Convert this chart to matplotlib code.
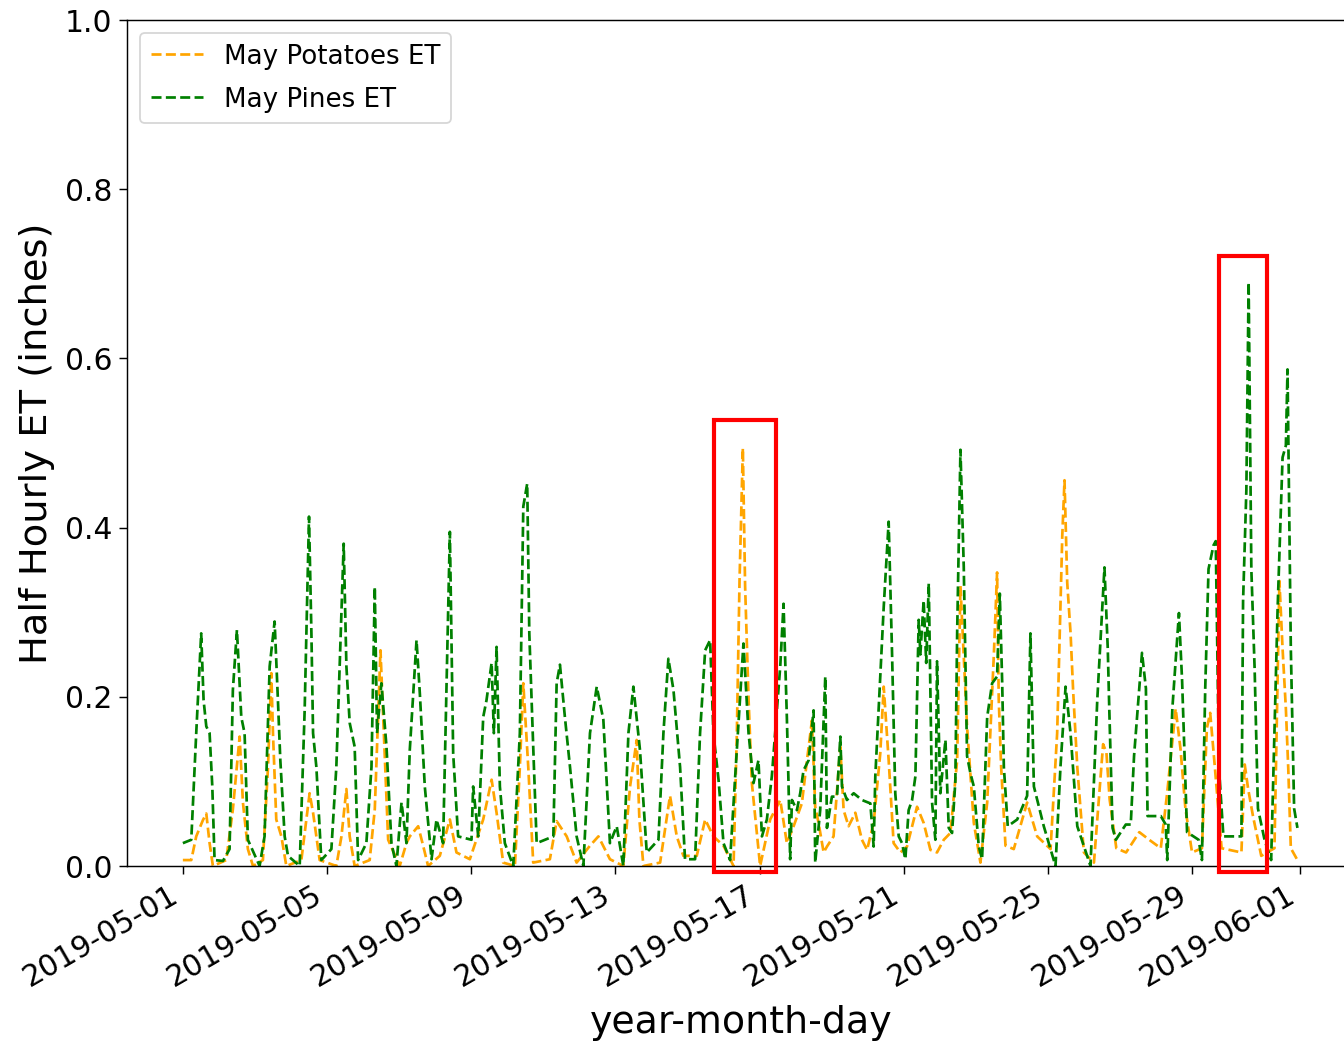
import pandas as pd
import numpy as np
import matplotlib
matplotlib.use('Agg')
import matplotlib.pyplot as plt
import matplotlib.dates as mdates
from matplotlib.patches import Rectangle

# hours after 2019-05-01 00:00 and half hourly ET (inches)
pines_h = [0, 5.6, 8.9, 12.2, 13.8, 15.6, 17.8, 19.6, 21.1, 26.7,
           31.1, 33.3, 36.0, 38.9, 41.1, 43.3, 51.1, 54.4, 57.8, 61.1,
           63.3, 64.9, 67.8, 70.0, 77.8, 81.1, 84.0, 85.6, 86.7, 88.9,
           92.2, 98.9, 102.2, 107.1, 108.9, 111.1, 114.4, 116.7, 122.2, 125.6,
           127.8, 129.3, 132.2, 135.6, 138.9, 142.2, 145.6, 148.9, 151.1, 155.6,
           157.8, 161.1, 165.6, 168.9, 173.3, 177.8, 180.0, 183.3, 192.2, 193.3,
           196.7, 200.0, 202.2, 205.6, 207.1, 208.9, 211.1, 214.4, 220.0, 224.4,
           226.7, 229.3, 230.7, 233.3, 235.6, 246.7, 248.9, 251.1, 254.4, 257.8,
           262.2, 266.7, 271.1, 275.6, 280.0, 284.4, 288.9, 293.3, 296.7, 300.0,
           304.4, 308.9, 316.7, 320.0, 323.3, 326.7, 331.1, 334.4, 341.1, 344.4,
           347.8, 351.1, 353.3, 356.7, 360.0, 364.4, 367.8, 373.3, 376.7, 380.0,
           383.3, 385.6, 388.9,
           392.2, 397.8, 400.0, 402.2, 403.3, 404.4, 405.6, 408.9, 411.1, 413.3,
           416.7, 420.0, 421.1, 424.4, 427.8, 428.9, 432.2, 435.6, 437.8, 438.9,
           442.2, 446.7, 452.2, 457.8, 460.0, 461.1, 463.3, 466.7, 470.0, 472.2,
           474.4, 476.7, 478.9, 481.1, 483.3, 485.6, 487.8, 488.9, 490.0, 491.1,
           493.3, 495.0, 496.7, 498.9, 501.1, 502.2, 504.4, 507.8, 510.0, 512.2,
           514.4, 515.6, 517.8, 520.0, 522.2, 524.4, 526.7, 530.0, 532.2, 535.6,
           538.9, 542.2, 544.0, 545.6, 546.7, 549.3, 555.6, 562.2, 564.4, 566.7,
           573.3, 581.1, 584.4, 587.8, 591.1, 595.6, 604.4, 608.9, 613.7, 615.9,
           616.9, 619.1, 621.3, 627.9, 631.2, 633.4, 638.7, 641.3, 642.4, 651.2,
           654.5, 655.5, 658.9, 663.3, 665.4, 668.7, 676.4, 678.6, 680.8, 683.0,
           686.3, 687.8, 690.0, 692.9, 704.9, 706.0, 708.2, 709.7, 711.5, 713.7,
           715.9, 720.3, 724.7, 729.0, 732.3, 734.5, 735.6, 737.8, 740.0, 742.2]
pines_et = [.027, .031, .157, .275, .196, .165, .157, .094, .007, .006,
            .020, .208, .279, .176, .157, .031, .000, .035, .236, .289,
            .196, .125, .035, .012, .000, .184, .413, .275, .157, .117,
            .007, .020, .117, .381, .236, .169, .141, .007, .027, .117,
            .330, .157, .216, .141, .027, .000, .075, .027, .137, .267,
            .204, .094, .008, .055, .027, .395, .133, .035, .031, .094,
            .035, .176, .196, .240, .157, .259, .094, .027, .000, .157,
            .425, .452, .275, .141, .027, .035, .216, .238, .176, .117,
            .035, .000, .157, .212, .173, .027, .047, .000, .157, .212,
            .137, .016, .031, .157, .245, .208, .117, .008, .008, .157,
            .255, .267, .157, .102, .027, .007, .106, .263, .157, .098,
            .125, .035, .055,
            .106, .236, .310, .176, .098, .008, .078, .066, .086, .113,
            .125, .184, .004, .066, .224, .045, .082, .082, .153, .094,
            .078, .086, .078, .074, .023, .106, .184, .306, .407, .255,
            .086, .035, .027, .008, .066, .078, .106, .197, .291, .250,
            .314, .240, .334, .075, .031, .242, .086, .149, .045, .039,
            .100, .275, .492, .354, .130, .110, .094, .023, .008, .176,
            .216, .224, .322, .216, .117, .047, .055, .083, .275, .094,
            .047, .000, .117, .212, .157, .047, .000, .196, .353, .257,
            .186, .045, .031, .049, .049, .130, .252, .210, .059, .059,
            .049, .007, .186, .299, .219, .040, .031, .007, .210, .351,
            .379, .384, .115, .035, .035, .313, .445, .690, .351, .233,
            .068, .031, .007, .304, .483, .497, .587, .257, .068, .045]

potatoes_h = [0, 5.6, 8.9, 13.3, 15.6, 17.8, 20.0, 28.9, 33.3, 37.8,
              40.0, 43.3, 46.7, 53.3, 56.7, 58.9, 60.0, 62.2, 65.6, 68.9,
              78.9, 82.2, 84.4, 86.7, 91.1, 102.2, 105.6, 108.9, 111.1, 114.4,
              124.4, 127.8, 131.6, 133.8, 136.7, 144.4, 148.9, 151.1, 156.7, 160.0,
              163.3, 171.1, 177.8, 182.2, 191.1, 200.0, 205.6, 208.9, 213.3, 221.1,
              224.4, 226.7, 230.0, 233.3, 244.4, 248.9, 255.6, 262.2, 271.1, 276.7,
              284.4, 293.3, 297.8, 302.2, 304.0, 306.7, 317.8, 324.4, 328.9, 333.3,
              342.2, 347.8, 353.3, 360.0, 366.7, 368.9, 370.7, 372.9, 374.4, 376.7,
              378.9, 384.4, 391.1, 397.8, 402.2, 406.7, 412.2, 415.6, 418.9, 421.1,
              423.3, 426.7, 428.9, 433.3, 437.8, 440.0, 443.3, 447.8, 452.2, 455.6,
              460.0, 464.4, 466.7, 470.0, 473.3, 477.8, 482.2, 488.9, 493.3, 497.8,
              502.2, 506.7, 511.1, 515.6, 517.8, 522.2, 526.7, 531.1, 535.6, 540.0,
              542.2, 543.3, 544.9, 547.8, 553.3, 562.2, 568.9, 577.8, 582.2, 585.6,
              587.1, 588.9, 591.1, 592.9, 595.6, 600.0, 606.7, 612.8, 615.0, 617.2,
              621.6, 628.1, 636.9, 643.5, 651.2, 655.5, 661.1, 664.3, 667.6, 672.0,
              678.6, 681.9, 684.1, 687.3, 691.7, 704.9, 707.1, 709.3, 712.6, 718.1,
              726.9, 730.2, 732.3, 734.5, 736.1, 737.8, 742.2]
potatoes_et = [.007, .007, .035, .054, .062, .027, .000, .007, .067, .153,
               .075, .020, .000, .007, .117, .228, .157, .055, .035, .000,
               .007, .055, .086, .063, .007, .000, .035, .091, .035, .000,
               .007, .067, .255, .157, .031, .000, .027, .035, .047, .024,
               .000, .012, .055, .016, .008, .055, .102, .063, .004, .000,
               .117, .216, .117, .004, .008, .053, .035, .004, .024, .035,
               .008, .000, .094, .149, .055, .000, .004, .083, .035, .012,
               .012, .055, .035, .024, .000, .157, .338, .494, .331, .197,
               .098, .000, .055, .078, .027, .047, .074, .125, .172, .070,
               .051, .016, .023, .035, .141, .066, .047, .063, .031, .019,
               .051, .133, .212, .125, .027, .016, .023, .070, .051, .019,
               .016, .031, .039, .125, .331, .165, .051, .004, .075, .248,
               .347, .197, .117, .024, .020, .075, .035, .020, .157, .390,
               .456, .335, .276, .205, .117, .016, .004, .144, .134, .078,
               .021, .016, .040, .031, .021, .087, .186, .139, .068, .016,
               .021, .163, .181, .115, .021, .016, .120, .092, .059, .012,
               .021, .337, .257, .186, .115, .021, .007]

tick_dates = ['2019-05-01', '2019-05-05', '2019-05-09', '2019-05-13', '2019-05-17',
              '2019-05-21', '2019-05-25', '2019-05-29', '2019-06-01']

start = pd.Timestamp('2019-05-01')
t_pines = start + pd.to_timedelta(pines_h, unit='h')
t_pot = start + pd.to_timedelta(potatoes_h, unit='h')

fig = plt.figure(figsize=(1344 / 130, 1048 / 130), dpi=130)
ax = fig.add_axes([127 / 1344, 182 / 1048, 1229 / 1344, 846 / 1048])

ax.plot(t_pot, potatoes_et, '--', color='orange', lw=1.5, label='May Potatoes ET')
ax.plot(t_pines, pines_et, '--', color='green', lw=1.5, label='May Pines ET')

# red boxes round the two spikes
t0 = mdates.date2num(start)
for h0, h1, top in [(354, 395.3, 0.527), (690, 722, 0.721)]:
    ax.add_patch(Rectangle((t0 + h0 / 24, -0.007), (h1 - h0) / 24, top + 0.007,
                           fill=False, edgecolor='red', lw=2.3, clip_on=False, zorder=5))

ax.set_xlim(t0 - 0.05 * 31, t0 + 31 + 0.05 * 31)
ax.set_ylim(0, 1.0)
ax.set_xticks([mdates.date2num(pd.Timestamp(d)) for d in tick_dates])
ax.xaxis.set_major_formatter(mdates.DateFormatter('%Y-%m-%d'))
ax.tick_params(labelsize=16.5, length=4.5)
plt.setp(ax.get_xticklabels(), rotation=30, ha='right')

ax.set_xlabel('year-month-day', fontsize=21, labelpad=7)
ax.set_ylabel('Half Hourly ET (inches)', fontsize=21.3, labelpad=5.5)
ax.legend(loc='upper left', fontsize=14.5, labelspacing=0.65)

fig.savefig('out.png', dpi=130)
